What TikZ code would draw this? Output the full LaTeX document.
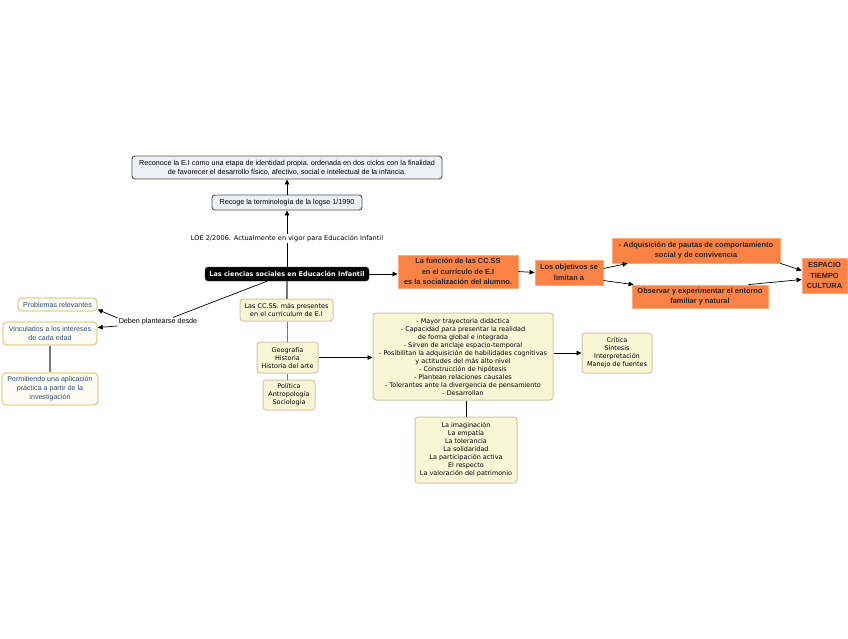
\documentclass[tikz,border=0pt]{standalone}
\usepackage{fontspec}
\setmainfont{Liberation Sans}
\newfontfamily\lsans{Liberation Sans}
\newfontfamily\dvs{DejaVu Sans}
\usetikzlibrary{arrows.meta}
\definecolor{orfill}{RGB}{250,130,68}
\definecolor{ordraw}{RGB}{255,170,120}
\definecolor{yfill}{RGB}{249,246,214}
\definecolor{ydraw}{RGB}{205,200,170}
\definecolor{lfill}{RGB}{253,252,242}
\definecolor{ldraw}{RGB}{220,214,150}
\definecolor{ltext}{RGB}{50,80,120}
\definecolor{tfill}{RGB}{238,241,244}
\definecolor{tdraw}{RGB}{80,80,80}
\definecolor{glin}{RGB}{120,120,120}
\tikzset{
  box/.style={inner sep=0pt, align=center, anchor=center},
  topbox/.style={box, draw=tdraw, fill=tfill, rounded corners=3pt, line width=0.9pt, font=\lsans\fontsize{7.2}{9}\selectfont},
  centralbox/.style={box, fill=black, draw=black!70, rounded corners=3pt, text=white, font=\dvs\bfseries\fontsize{6.5}{8}\selectfont},
  orbox/.style={box, fill=orfill, draw=ordraw, line width=0.8pt, text=black!85, font=\lsans\bfseries\fontsize{7.4}{10.4}\selectfont},
  ybox/.style={box, fill=yfill, draw=ydraw, line width=1pt, rounded corners=3pt, font=\dvs\fontsize{6.45}{8}\selectfont},
  lbox/.style={box, fill=lfill, draw=ldraw, line width=1.4pt, rounded corners=4pt, text=ltext, font=\lsans\fontsize{7.1}{9}\selectfont},
  plain/.style={inner sep=1pt, align=center},
  arr/.style={draw=black, line width=0.7pt, -{Triangle[length=5pt,width=4.5pt]}},
  ln/.style={draw=black, line width=0.7pt},
  gln/.style={draw=glin, line width=1.3pt},
}
\begin{document}
\begin{tikzpicture}[x=1pt,y=-1pt]
\useasboundingbox (0,0) rectangle (848,638);
\fill[white] (0,0) rectangle (848,638);

\node[topbox, minimum width=310pt, minimum height=23pt] (top1) at (287,167.5)
  {Reconoce la E.I como una etapa de identidad propia, ordenada en dos ciclos con la finalidad\\de favorecer el desarrollo físico, afectivo, social e intelectual de la infancia.};
\node[topbox, minimum width=150pt, minimum height=15pt] (recoge) at (287,202.5)
  {Recoge la terminología de la logse 1/1990};
\node[centralbox, minimum width=164pt, minimum height=14pt] (central) at (287,274)
  {Las ciencias sociales en Educación Infantil};

\node[orbox, minimum width=120pt, minimum height=33pt] (or1) at (458,271.5)
  {La función de las CC.SS\\en el currículo de E.I\\es la socialización del alumno.};
\node[orbox, minimum width=68pt, minimum height=25pt] (or2) at (569,272.5)
  {Los objetivos se\\limitan a};
\node[orbox, minimum width=168pt, minimum height=25pt] (or3) at (696,250.5)
  {- Adquisición de pautas de comportamiento\\social y de convivencia};
\node[orbox, minimum width=136pt, minimum height=23pt] (or4) at (700,296.5)
  {Observar y experimentar el entorno\\familiar y natural};
\node[orbox, minimum width=45pt, minimum height=35pt] (esp) at (824.5,275.5)
  {ESPACIO\\TIEMPO\\CULTURA};

\node[plain, font=\lsans\fontsize{7.2}{8}\selectfont] (deben) at (158,322) {Deben plantearse desde};
\node[lbox, minimum width=79pt, minimum height=13pt] (prob) at (57.5,304.5) {Problemas relevantes};
\node[lbox, minimum width=94pt, minimum height=23pt] (vinc) at (50,333.5) {Vinculados a los intereses\\de cada edad};
\node[lbox, minimum width=96pt, minimum height=32pt] (perm) at (50,389) {Permitiendo una aplicación\\práctica a partir de la\\investigación};

\node[ybox, minimum width=93pt, minimum height=22pt] (ccss) at (286.5,310) {Las CC.SS. más presentes\\en el currículum de E.I};
\node[ybox, minimum width=61pt, minimum height=31pt] (geo) at (287.5,357.5) {Geografía\\Historia\\Historia del arte};
\node[ybox, minimum width=52pt, minimum height=30pt] (pol) at (289,395) {Política\\Antropología\\Sociología};
\node[ybox, minimum width=180pt, minimum height=87pt] (big) at (463,356.5)
  {- Mayor trayectoria didáctica\\- Capacidad para presentar la realidad\\de forma global e integrada\\- Sirven de anclaje espacio-temporal\\- Posibilitan la adquisición de habilidades cognitivas\\y actitudes del más alto nivel\\- Construcción de hipótesis\\- Plantean relaciones causales\\- Tolerantes ante la divergencia de pensamiento\\- Desarrollan};
\node[ybox, minimum width=70pt, minimum height=40pt] (crit) at (617,353) {Crítica\\Síntesis\\Interpretación\\Manejo de fuentes};
\node[ybox, minimum width=102pt, minimum height=66pt] (bot) at (466,450)
  {La imaginación\\La empatía\\La tolerancia\\La solidaridad\\La participación activa\\El respecto\\La valoración del patrimonio};

% connectors
\draw[arr] (recoge.north) -- (top1.south);
\draw[arr] (central.north) -- node[plain, fill=white, font=\dvs\fontsize{6.6}{8}\selectfont] (loe) {LOE 2/2006. Actualmente en vigor para Educación Infantil} (recoge.south);
\draw[arr] (central.east) -- (or1.west |- central.east);
\draw[arr] (or1.east) -- (or2.west);
\draw[arr] ([yshift=4pt]or2.east) -- ([xshift=16pt]or3.south west);
\draw[arr] ([yshift=-8pt]or2.east) -- ([xshift=2pt]or4.north west);
\draw[arr] (or3.south east) -- ([yshift=5pt]esp.west);
\draw[arr] ([xshift=-20pt]or4.north east) -- ([yshift=-4pt]esp.west);

\draw[ln] ([xshift=-20pt]central.south) -- ([xshift=15pt]deben.north);
\draw[arr] ([yshift=4pt]deben.west) -- ([yshift=-5pt]prob.east);
\draw[arr] ([yshift=-4pt]deben.west) -- ([yshift=6pt]vinc.east);
\draw[gln] (vinc.south) -- (perm.north);

\draw[gln] (central.south) -- (central.south |- ccss.north);
\draw[gln] (ccss.south -| geo.north) -- (geo.north);
\draw[gln] (geo.south) -- (geo.south |- pol.north);
\draw[arr] (geo.east) -- (big.west |- geo.east);
\draw[arr] (big.east |- crit.west) -- (crit.west);
\draw[ln] (bot.north |- big.south) -- (bot.north);
\end{tikzpicture}
\end{document}
